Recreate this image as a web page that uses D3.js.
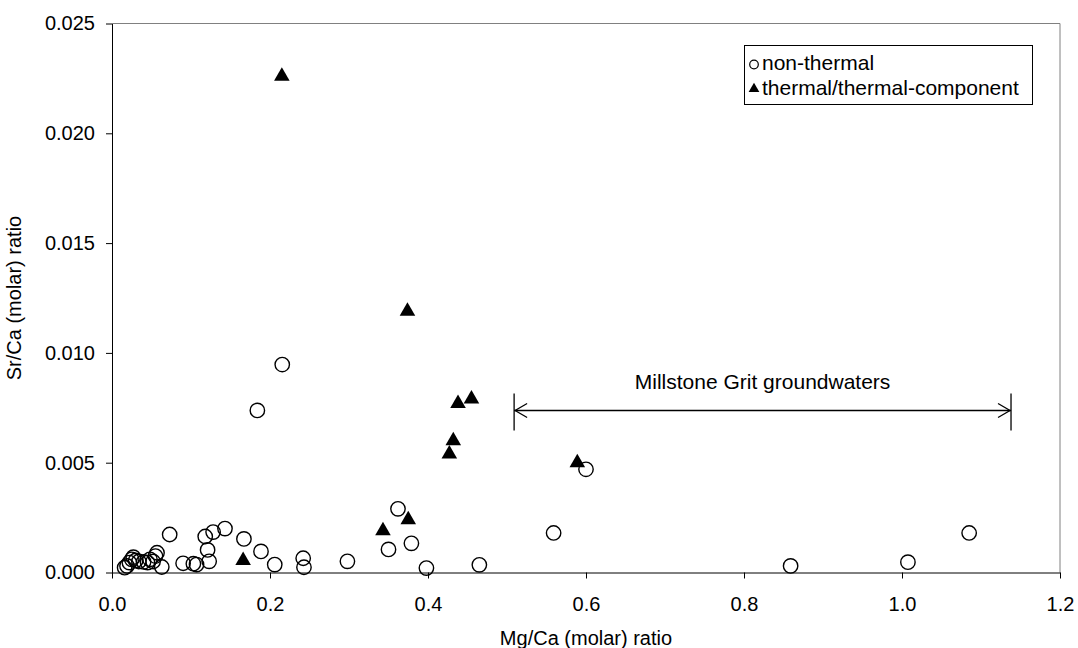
<!DOCTYPE html>
<html><head><meta charset="utf-8">
<script src="https://cdn.jsdelivr.net/npm/d3@7"></script>
<style>
body{margin:0;background:#fff;}
svg{display:block;font-family:"Liberation Sans",Arial,sans-serif;}
</style></head>
<body>
<svg id="chart" width="1078" height="648"></svg>
<script>
// Non-thermal samples: Mg/Ca, Sr/Ca
const nonThermalMg = [0.016,0.019,0.022,0.025,0.027,0.030,0.034,0.040,0.045,0.048,0.052,0.055,0.057,0.063,
  0.073,0.090,0.103,0.107,0.118,0.121,0.123,0.128,0.143,0.167,0.1886,0.206,0.184,0.2155,0.242,0.243,0.298,
  0.350,0.362,0.379,0.398,0.465,0.559,0.600,0.859,1.0075,1.085];
const nonThermalSr = [0.00022,0.0003,0.00045,0.0006,0.0007,0.00055,0.0005,0.00048,0.00045,0.0006,0.0005,0.00075,0.0009,0.00025,
  0.00173,0.00042,0.0004,0.00036,0.00164,0.00103,0.00051,0.00184,0.0020,0.00153,0.00096,0.00036,0.00738,0.00947,0.00065,0.00024,0.00051,
  0.00105,0.0029,0.00133,0.0002,0.00035,0.0018,0.0047,0.0003,0.00047,0.0018];
// Thermal / thermal-component samples
const thermalMg = [0.166,0.215,0.343,0.375,0.374,0.427,0.432,0.438,0.455,0.589];
const thermalSr = [0.00055,0.0226,0.0019,0.0024,0.0119,0.0054,0.0060,0.0077,0.0079,0.0050];
const xTicks = [0,0.2,0.4,0.6,0.8,1.0,1.2];
const yTicks = [0,0.005,0.010,0.015,0.020,0.025];
const legendLabels = ["non-thermal","thermal/thermal-component"];
const xTitle = "Mg/Ca (molar) ratio";
const yTitle = "Sr/Ca (molar) ratio";
const rangeLabel = "Millstone Grit groundwaters";
const rangeX = [0.509, 1.138];
const rangeY = 0.0074;

const svg = d3.select("#chart");
const L = 112, R = 1060, T = 23.5, B = 572.5;
const x = d3.scaleLinear().domain([0,1.2]).range([L,R]);
const y = d3.scaleLinear().domain([0,0.025]).range([B,T]);
const FS = 20;

// plot border (top/right)
svg.append("path").attr("d",`M${L},${T}H${R}V${B}`).attr("fill","none").attr("stroke","#808080").attr("stroke-width",1);

// axes
const xAxis = d3.axisBottom(x).tickValues(xTicks).tickFormat(d3.format(".1f")).tickSizeOuter(0).tickSizeInner(6);
const gx = svg.append("g").attr("transform",`translate(0,${B})`).call(xAxis);
const yAxis = d3.axisLeft(y).tickValues(yTicks).tickFormat(d3.format(".3f")).tickSizeOuter(0).tickSizeInner(6).tickPadding(11);
const gy = svg.append("g").attr("transform",`translate(${L},0)`).call(yAxis);
[gx,gy].forEach(g=>{
  g.select(".domain").attr("stroke","#000");
  g.selectAll(".tick line").attr("stroke","#000");
  g.selectAll("text").attr("fill","#000").style("font-size",FS+"px").style("font-family","Liberation Sans, Arial, sans-serif");
});
gx.selectAll(".tick text").attr("dy","0.71em").attr("y",24);

// titles
svg.append("text").attr("x",(L+R)/2).attr("y",645).attr("text-anchor","middle").style("font-size",FS+"px").text(xTitle);
svg.append("text").attr("transform",`translate(21,${(T+B)/2}) rotate(-90)`).attr("text-anchor","middle").style("font-size",FS+"px").text(yTitle);

// points
const nt = nonThermalMg.map((v,i)=>({x:v,y:nonThermalSr[i]}));
const th = thermalMg.map((v,i)=>({x:v,y:thermalSr[i]}));
svg.append("g").selectAll("circle").data(nt).join("circle")
  .attr("cx",d=>x(d.x)).attr("cy",d=>y(d.y)).attr("r",7.2)
  .attr("fill","none").attr("stroke","#000").attr("stroke-width",1.4);
const tri = d3.symbol().type(d3.symbolTriangle).size(105);
svg.append("g").selectAll("path").data(th).join("path")
  .attr("d",tri).attr("transform",d=>`translate(${x(d.x)},${y(d.y)})`).attr("fill","#000");

// range annotation
const ry = Math.round(y(rangeY))+0.5;
const x1 = x(rangeX[0]), x2 = x(rangeX[1]);
const ann = svg.append("g").attr("stroke","#000").attr("stroke-width",1.3).attr("fill","none");
ann.append("line").attr("x1",x1).attr("x2",x2).attr("y1",ry).attr("y2",ry);
ann.append("line").attr("x1",x1).attr("x2",x1).attr("y1",ry-17).attr("y2",ry+20);
ann.append("line").attr("x1",x2).attr("x2",x2).attr("y1",ry-17).attr("y2",ry+20);
ann.append("path").attr("d",`M${x1+13},${ry-7}L${x1+1},${ry}L${x1+13},${ry+7}`);
ann.append("path").attr("d",`M${x2-13},${ry-7}L${x2-1},${ry}L${x2-13},${ry+7}`);
svg.append("text").attr("x",(x1+x2)/2).attr("y",ry-22).attr("text-anchor","middle").style("font-size","21px").text(rangeLabel);

// legend
const lg = svg.append("g");
lg.append("rect").attr("x",744.5).attr("y",45.5).attr("width",288).attr("height",59).attr("fill","#fff").attr("stroke","#000").attr("stroke-width",1);
lg.append("circle").attr("cx",754).attr("cy",64.5).attr("r",4.3).attr("fill","none").attr("stroke","#000").attr("stroke-width",1.2);
lg.append("path").attr("d",d3.symbol().type(d3.symbolTriangle).size(50)).attr("transform","translate(754,89)").attr("fill","#000");
lg.append("text").attr("x",762).attr("y",69.5).style("font-size","21px").text(legendLabels[0]);
lg.append("text").attr("x",762).attr("y",94.5).style("font-size","21px").text(legendLabels[1]);
</script>
</body></html>
